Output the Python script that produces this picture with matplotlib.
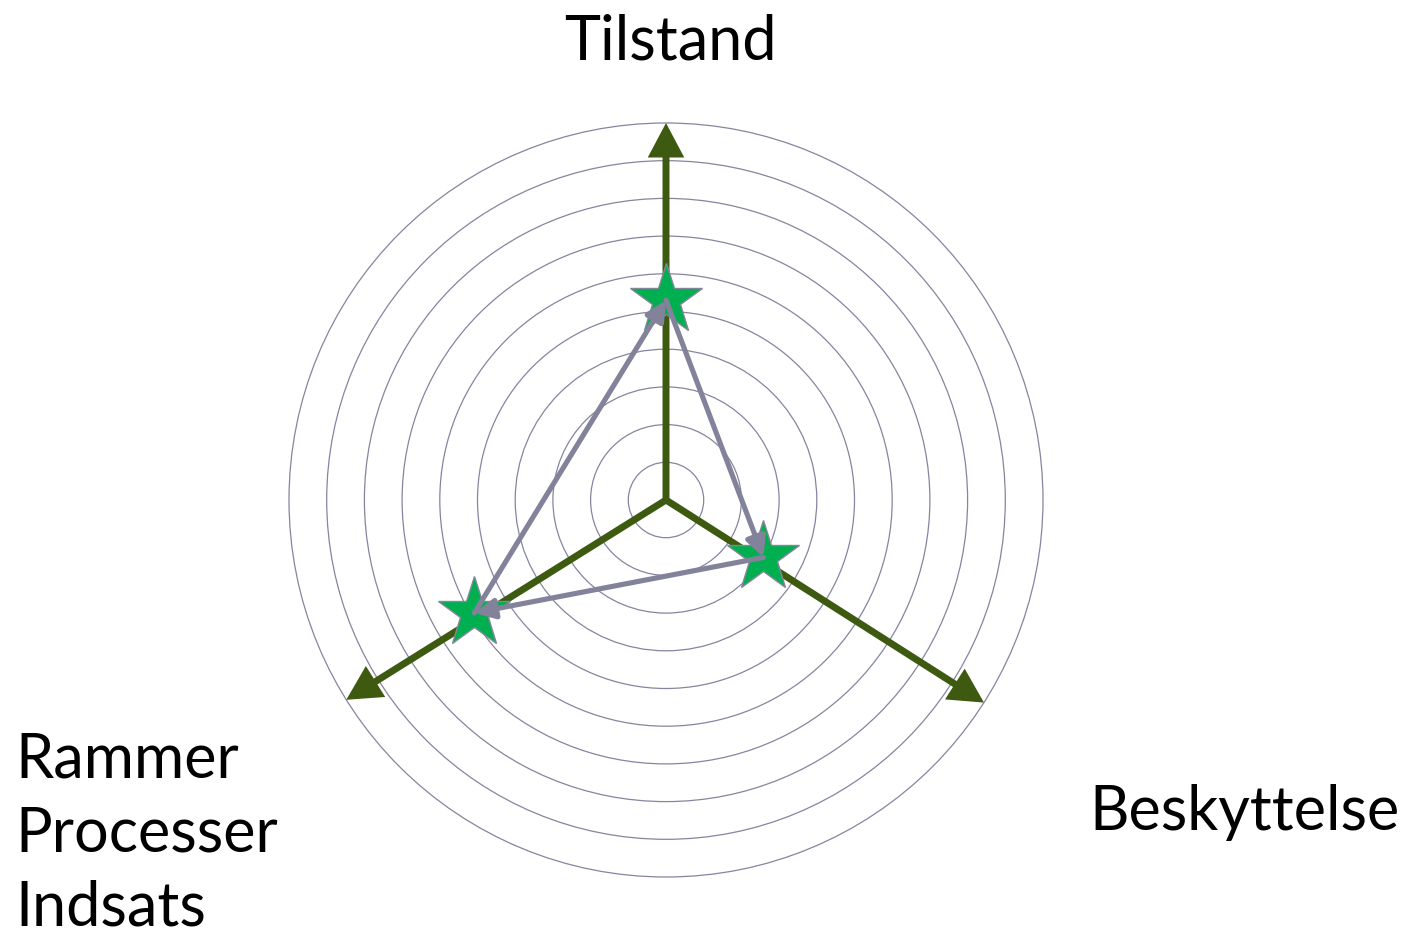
import numpy as np
import matplotlib.pyplot as plt
from matplotlib.patches import Circle, FancyArrowPatch

# radar data (scale 0..10)
labels = ["Tilstand", "Beskyttelse", "Rammer\nProcesser\nIndsats"]
values = [5.3, 3.0, 5.9]
data_angles = [90, -30.5, 210.5]      # degrees, where the points sit
axis_angles = [90, -32.5, 212.0]      # degrees, direction of the green axis arrows
ring_levels = np.arange(1, 11)
axis_max = 10

plt.rcParams['font.family'] = ['Lato', 'DejaVu Sans']

W, H = 1404, 935
fig = plt.figure(figsize=(W / 100, H / 100), dpi=100)
ax = fig.add_axes([0, 0, 1, 1])
scale = 37.7          # px per unit
cx, cy = 666, 500     # center in px from top-left
ax.set_xlim(-cx / scale, (W - cx) / scale)
ax.set_ylim(-(H - cy) / scale, cy / scale)
ax.axis('off')

# rings
for r in ring_levels:
    ax.add_patch(Circle((0, 0), r, fill=False, edgecolor='#8585a0', lw=0.9, zorder=1))

# green axes with arrow heads
for a in axis_angles:
    t = np.deg2rad(a)
    ax.add_patch(FancyArrowPatch((0, 0), (axis_max * np.cos(t), axis_max * np.sin(t)),
                                 arrowstyle='-|>,head_length=17,head_width=9',
                                 mutation_scale=1, shrinkA=0, shrinkB=0,
                                 color='#3d5a10', lw=5, zorder=2,
                                 joinstyle='miter', capstyle='butt'))

# data points
th = np.deg2rad(data_angles)
xs = np.array(values) * np.cos(th)
ys = np.array(values) * np.sin(th)
ax.plot(xs, ys, linestyle='none', marker='*', markersize=54,
        markerfacecolor='#00b050', markeredgecolor='#85859a', markeredgewidth=1, zorder=3)

# grey arrows connecting the points in a cycle
n = len(values)
for i in range(n):
    j = (i + 1) % n
    ax.add_patch(FancyArrowPatch((xs[i], ys[i]), (xs[j], ys[j]),
                                 arrowstyle='-|>,head_length=12,head_width=6',
                                 mutation_scale=1, shrinkA=0, shrinkB=0,
                                 color='#82829a', lw=3.7, zorder=4))

# labels
fs = 44
fig.text(670 / W, 1 - 60 / H, labels[0], ha='center', va='baseline', fontsize=fs)
fig.text(1089 / W, 1 - 830 / H, labels[1], ha='left', va='baseline', fontsize=fs)
for k, line in enumerate(labels[2].split('\n')):
    fig.text(15 / W, 1 - (778 + 74 * k) / H, line, ha='left', va='baseline', fontsize=fs)

fig.savefig('out.png', dpi=100)
